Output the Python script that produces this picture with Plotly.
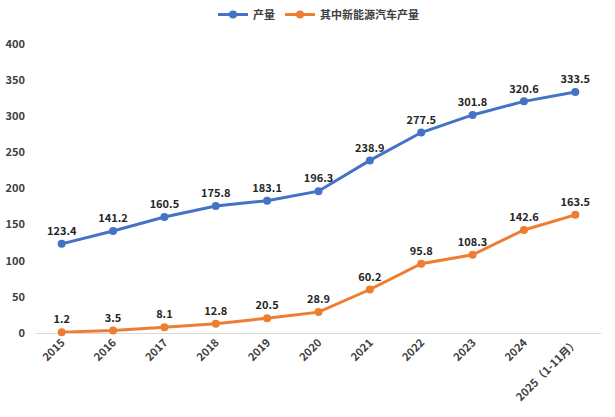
import plotly.graph_objects as go

categories = ["2015", "2016", "2017", "2018", "2019", "2020", "2021", "2022", "2023", "2024", "2025（1-11月）"]
production = [123.4, 141.2, 160.5, 175.8, 183.1, 196.3, 238.9, 277.5, 301.8, 320.6, 333.5]
nev_production = [1.2, 3.5, 8.1, 12.8, 20.5, 28.9, 60.2, 95.8, 108.3, 142.6, 163.5]
series_names = ["产量", "其中新能源汽车产量"]

font_family = "Noto Sans CJK SC"
fig = go.Figure()
fig.add_trace(go.Scatter(
    x=categories, y=production, name=series_names[0], mode="lines+markers+text",
    line=dict(color="#4472C4", width=3), marker=dict(size=8, color="#4472C4"),
    text=[f"{v:.1f}" for v in production], textposition="top center",
    textfont=dict(family=font_family, size=11, color="#262626", weight="bold"),
    cliponaxis=False,
))
fig.add_trace(go.Scatter(
    x=categories, y=nev_production, name=series_names[1], mode="lines+markers+text",
    line=dict(color="#ED7D31", width=3), marker=dict(size=8, color="#ED7D31"),
    text=[f"{v:.1f}" for v in nev_production], textposition="top center",
    textfont=dict(family=font_family, size=11, color="#262626", weight="bold"),
    cliponaxis=False,
))

fig.update_layout(
    width=615, height=417,
    margin=dict(l=36, r=14, t=44, b=84, autoexpand=False),
    paper_bgcolor="white", plot_bgcolor="white",
    font=dict(family=font_family, size=11, color="#404040", weight="bold"),
    legend=dict(orientation="h", x=0.5, xanchor="center", y=1.0, yanchor="top",
                yref="container", font=dict(size=11, color="#404040")),
    showlegend=True,
)
fig.update_xaxes(type="category", tickangle=-45, showgrid=False, showline=False,
                 range=[-0.5, len(categories) - 0.5],
                 ticks="", tickfont=dict(size=11, color="#404040"), automargin=False)
fig.update_yaxes(range=[0, 400], dtick=50, showgrid=False, zeroline=True,
                 zerolinecolor="#D9D9D9", zerolinewidth=1, showline=False,
                 tickfont=dict(size=11, color="#404040"), ticks="", automargin=False,
                 ticklabelstandoff=10)

fig.write_html("out.html", config={"displayModeBar": False},
               post_script="document.body.style.margin='0';")
